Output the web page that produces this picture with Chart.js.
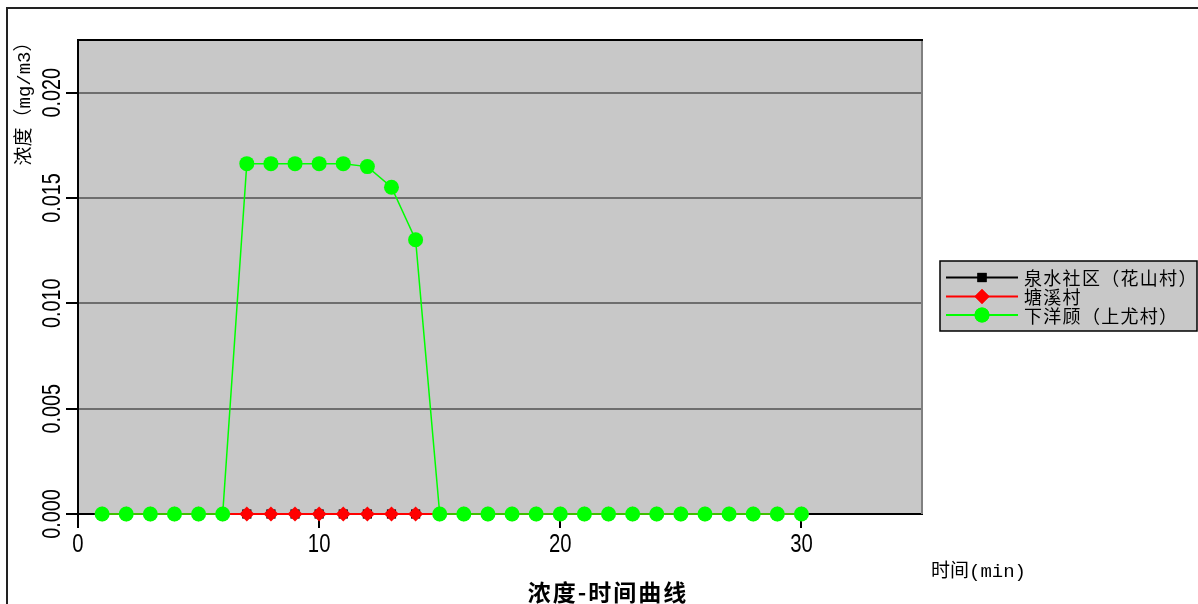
<!DOCTYPE html>
<html>
<head>
<meta charset="utf-8">
<script src="https://cdn.jsdelivr.net/npm/chart.js@4.4.1/dist/chart.umd.min.js"></script>
<style>
  html, body { margin: 0; padding: 0; background: #fff; }
  #wrap { width: 1198px; height: 604px; position: relative; }
</style>
</head>
<body>
<div id="wrap"><canvas id="c" width="1198" height="604"></canvas></div>
<script>
// ---- data ----
const times = [1,2,3,4,5,6,7,8,9,10,11,12,13,14,15,16,17,18,19,20,21,22,23,24,25,26,27,28,29,30];
const quanshui = [0,0,0,0,0,0,0,0,0,0,0,0,0,0,0,0,0,0,0,0,0,0,0,0,0,0,0,0,0,0];
const tangxi   = [0,0,0,0,0,0,0,0,0,0,0,0,0,0,0,0,0,0,0,0,0,0,0,0,0,0,0,0,0,0];
const xiayang  = [0,0,0,0,0,0,0.01663,0.01663,0.01663,0.01663,0.01663,0.01649,0.01551,0.01302,0,0,0,0,0,0,0,0,0,0,0,0,0,0,0,0];
const seriesNames = ['泉水社区（花山村）', '塘溪村', '下洋顾（上尤村）'];
const xTicks = [0, 10, 20, 30];
const yTicks = [0, 0.005, 0.010, 0.015, 0.020];
const xMax = 35;
const yMax = 0.0225;
const chartTitle = '浓度-时间曲线';
const xTitle = '时间(min)';
const yTitle = '浓度（mg/m3）';

const toPts = arr => arr.map((v, i) => ({x: times[i], y: v}));

const colors = ['#000000', '#ff0000', '#00ff00'];
const styles = ['rect', 'rectRot', 'circle'];
const radii = [6.5, 7.5, 7.5];
const widths = [1.5, 2, 1.5];

const decor = {
  id: 'decor',
  beforeDraw(chart) {
    const ctx = chart.ctx, a = chart.chartArea;
    ctx.save();
    ctx.fillStyle = '#fff';
    ctx.fillRect(0, 0, chart.width, chart.height);
    // outer frame
    ctx.strokeStyle = '#222';
    ctx.lineWidth = 2;
    ctx.beginPath();
    ctx.moveTo(7, chart.height);
    ctx.lineTo(7, 8);
    ctx.lineTo(chart.width, 8);
    ctx.stroke();
    // plot background
    ctx.fillStyle = '#c8c8c8';
    ctx.fillRect(a.left, a.top, a.right - a.left, a.bottom - a.top);
    ctx.restore();
  },
  afterDraw(chart) {
    const ctx = chart.ctx, a = chart.chartArea;
    const xs = chart.scales.x, ys = chart.scales.y;
    ctx.save();
    // top & right borders of plot
    ctx.strokeStyle = '#808080';
    ctx.lineWidth = 2;
    ctx.beginPath();
    ctx.moveTo(a.right, a.top);
    ctx.lineTo(a.right, a.bottom);
    ctx.stroke();
    ctx.strokeStyle = '#000';
    ctx.beginPath();
    ctx.moveTo(a.left, a.top);
    ctx.lineTo(a.right + 1, a.top);
    ctx.stroke();

    // tick labels (condensed sans)
    ctx.fillStyle = '#000';
    ctx.font = '26px "Liberation Sans", Arial, sans-serif';
    ctx.textAlign = 'center';
    ctx.textBaseline = 'middle';
    xs.ticks.forEach(t => {
      const px = xs.getPixelForValue(t.value);
      ctx.save();
      ctx.translate(px, 545);
      ctx.scale(0.78, 1);
      ctx.fillText(String(t.value), 0, 0);
      ctx.restore();
    });
    ys.ticks.forEach(t => {
      const py = ys.getPixelForValue(t.value);
      ctx.save();
      ctx.translate(53, py);
      ctx.rotate(-Math.PI / 2);
      ctx.scale(0.76, 1);
      ctx.fillText(t.value.toFixed(3), 0, 0);
      ctx.restore();
    });

    // y title
    ctx.save();
    ctx.font = '19px "Liberation Mono", "Noto Sans CJK SC", sans-serif';
    ctx.translate(25, 99);
    ctx.rotate(-Math.PI / 2);
    ctx.fillText(yTitle, 0, 0);
    ctx.restore();

    // x title
    ctx.font = '19px "Liberation Mono", "Noto Sans CJK SC", sans-serif';
    ctx.textAlign = 'left';
    ctx.fillText(xTitle, 931, 572);

    // chart title
    ctx.font = 'bold 23px "Noto Sans CJK SC", sans-serif';
    ctx.textAlign = 'center';
    try { ctx.letterSpacing = '2px'; } catch (e) {}
    ctx.fillText(chartTitle, 608, 592);

    // legend
    const lx = 940, ly = 261, lw = 257, lh = 70;
    ctx.fillStyle = '#c8c8c8';
    ctx.fillRect(lx, ly, lw, lh);
    ctx.strokeStyle = '#000';
    ctx.lineWidth = 1.5;
    ctx.strokeRect(lx, ly, lw, lh);
    const rows = [277.5, 296.5, 315];
    ctx.font = '18px "Noto Sans CJK SC", sans-serif';
    try { ctx.letterSpacing = '1.3px'; } catch (e) {}
    ctx.textAlign = 'left';
    ctx.textBaseline = 'middle';
    seriesNames.forEach((name, i) => {
      const y = rows[i];
      ctx.strokeStyle = colors[i];
      ctx.lineWidth = 2;
      ctx.beginPath();
      ctx.moveTo(946, y);
      ctx.lineTo(1018, y);
      ctx.stroke();
      ctx.fillStyle = colors[i];
      Chart.helpers.drawPoint(ctx, {pointStyle: styles[i], radius: radii[i], borderWidth: 0, rotation: 0}, 982, y);
      ctx.fill();
      ctx.fillStyle = '#000';
      ctx.fillText(name, 1024, y + 1);
    });
    try { ctx.letterSpacing = '0px'; } catch (e) {}
    ctx.restore();
  }
};

const datasets = [quanshui, tangxi, xiayang].map((arr, i) => ({
  label: seriesNames[i],
  data: toPts(arr),
  borderColor: colors[i],
  backgroundColor: colors[i],
  borderWidth: widths[i],
  pointStyle: styles[i],
  pointRadius: radii[i],
  pointHoverRadius: radii[i],
  pointBorderWidth: 0,
  pointBackgroundColor: colors[i],
  tension: 0,
  clip: false,
  order: 2 - i
}));

new Chart(document.getElementById('c'), {
  type: 'line',
  data: { datasets },
  plugins: [decor],
  options: {
    responsive: false,
    animation: false,
    events: [],
    layout: { padding: { left: 0, top: 40, right: 276, bottom: 0 } },
    plugins: { legend: { display: false }, tooltip: { enabled: false }, title: { display: false } },
    scales: {
      x: {
        type: 'linear',
        min: 0, max: xMax,
        afterBuildTicks: s => { s.ticks = xTicks.map(v => ({value: v})); },
        afterFit: s => { s.height = 90; },
        ticks: { display: false },
        grid: { drawOnChartArea: false, drawTicks: true, tickLength: 14, tickColor: '#000', lineWidth: 2 },
        border: { display: true, color: '#000', width: 2 }
      },
      y: {
        type: 'linear',
        min: 0, max: yMax,
        afterBuildTicks: s => { s.ticks = yTicks.map(v => ({value: v})); },
        afterFit: s => { s.width = 78; },
        ticks: { display: false },
        grid: {
          color: c => (c.tick && c.tick.value === 0) ? '#000' : '#6e6e6e',
          lineWidth: 2, drawTicks: true, tickLength: 12, tickColor: '#000'
        },
        border: { display: true, color: '#000', width: 2 }
      }
    }
  }
});
</script>
</body>
</html>
